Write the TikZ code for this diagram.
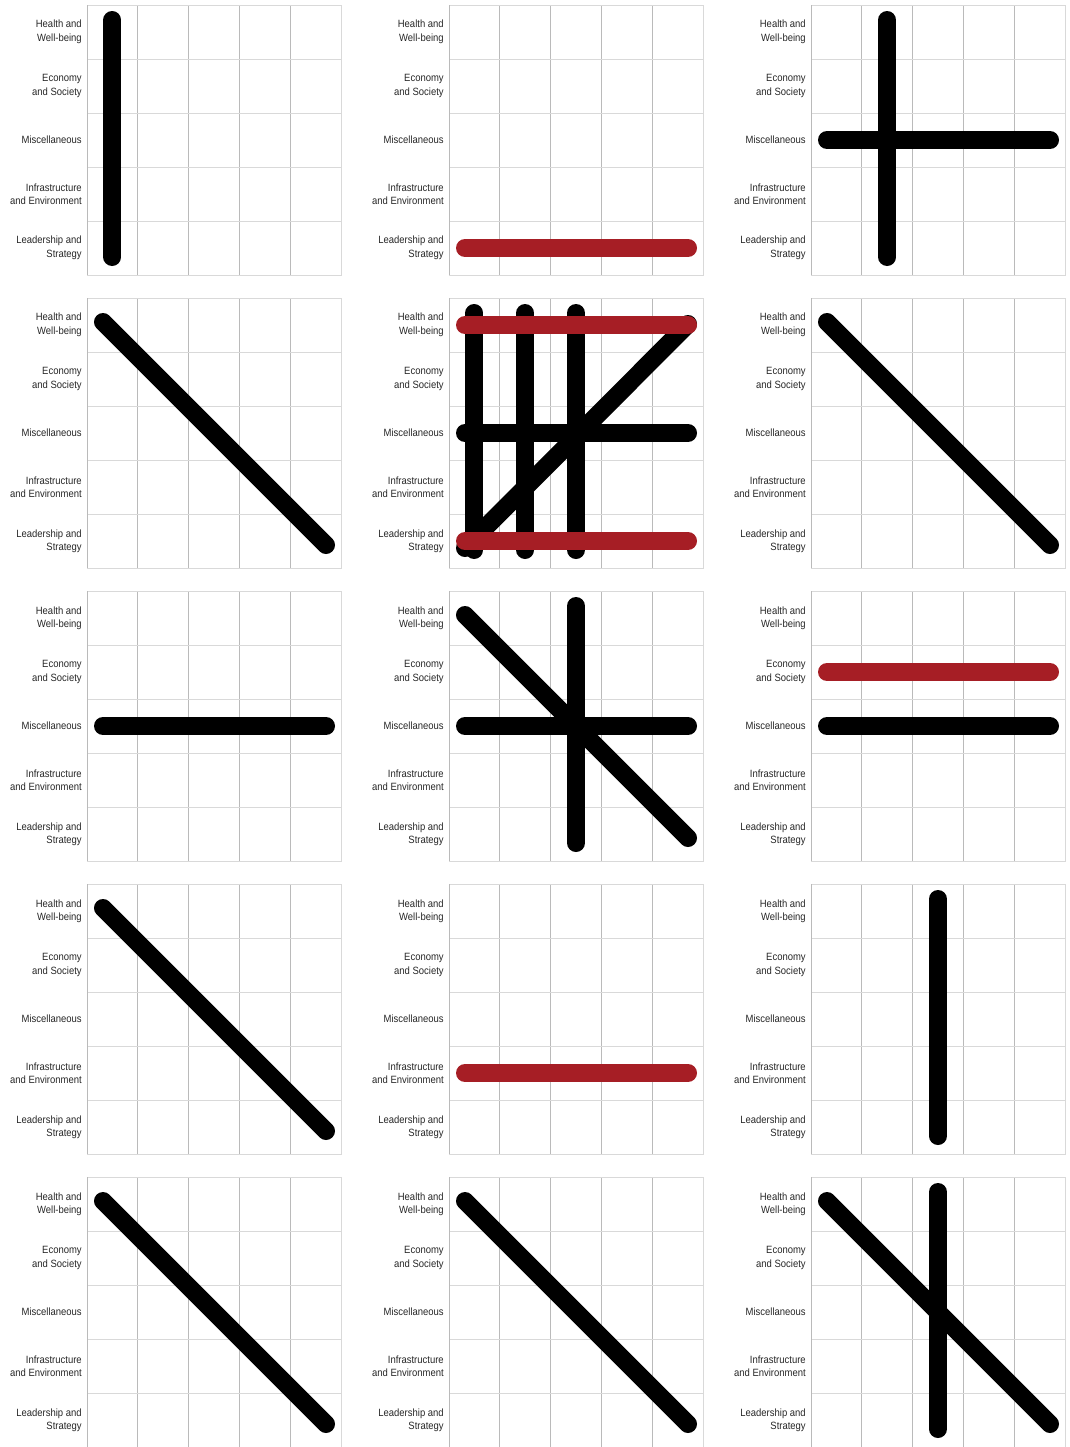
\documentclass[tikz,border=0pt]{standalone}
\usepackage{fontspec}
\setmainfont{Liberation Sans}[FakeStretch=0.9]
\definecolor{glyphred}{HTML}{A61E25}
\tikzset{
  rowlabel/.style={anchor=east,align=right,inner sep=0pt,text=black!85,
    font=\fontsize{7.9}{10.1}\selectfont},
  vgrid/.style={draw=black!27,line width=0.75pt},
  hgrid/.style={draw=black!15,line width=0.75pt},
  stroke/.style={line width=13.5pt,line cap=round},
}
\begin{document}
\begin{tikzpicture}[x=0.75pt,y=-0.75pt]
\useasboundingbox (0,0) rectangle (1070,1447);
\newcommand{\hstroke}[2]{\draw[stroke,#2] (16,{27+54*(#1-1)}) -- (239,{27+54*(#1-1)});}
\newcommand{\vstroke}[1]{\draw[stroke] ({25.4+50.8*(#1-1)},15) -- ({25.4+50.8*(#1-1)},252);}
\newcommand{\dstroke}{\draw[stroke] (16,24) -- (239,247);}
\newcommand{\ustroke}{\draw[stroke] (16,250) -- (239,26);}
\newcommand{\chartpanel}[4]{%
  \begin{scope}[shift={(#1,#2)},name prefix=#3-]
    \foreach \k in {1,...,4} \draw[vgrid] (\k*50.8,0) -- (\k*50.8,270);
    \foreach \j in {1,...,4} \draw[hgrid] (0,\j*54) -- (254,\j*54);
    \draw[hgrid] (0,0) -- (254,0) -- (254,270) -- (0,270);
    \draw[vgrid] (0,0) -- (0,270);
    \node[rowlabel] (hw) at (-5,27)  {Health and\\Well-being};
    \node[rowlabel] (es) at (-5,81)  {Economy\\and Society};
    \node[rowlabel] (mi) at (-5,135) {Miscellaneous};
    \node[rowlabel] (ie) at (-5,189) {Infrastructure\\and Environment};
    \node[rowlabel] (ls) at (-5,243) {Leadership and\\Strategy};
    #4
  \end{scope}}
%%%%%%%%%%%%%%%% row 1
\chartpanel{87}{5}{p11}{\vstroke{1}}
\chartpanel{449}{5}{p12}{\hstroke{5}{glyphred}}
\chartpanel{811}{5}{p13}{\vstroke{2}\hstroke{3}{black}}
%%%%%%%%%%%%%%%% row 2
\chartpanel{87}{298}{p21}{\dstroke}
\chartpanel{449}{298}{p22}{\vstroke{1}\vstroke{2}\vstroke{3}\ustroke
  \hstroke{3}{black}\hstroke{1}{glyphred}\hstroke{5}{glyphred}}
\chartpanel{811}{298}{p23}{\dstroke}
%%%%%%%%%%%%%%%% row 3
\chartpanel{87}{591}{p31}{\hstroke{3}{black}}
\chartpanel{449}{591}{p32}{\dstroke\vstroke{3}\hstroke{3}{black}}
\chartpanel{811}{591}{p33}{\hstroke{2}{glyphred}\hstroke{3}{black}}
%%%%%%%%%%%%%%%% row 4
\chartpanel{87}{884}{p41}{\dstroke}
\chartpanel{449}{884}{p42}{\hstroke{4}{glyphred}}
\chartpanel{811}{884}{p43}{\vstroke{3}}
%%%%%%%%%%%%%%%% row 5
\chartpanel{87}{1177}{p51}{\dstroke}
\chartpanel{449}{1177}{p52}{\dstroke}
\chartpanel{811}{1177}{p53}{\dstroke\vstroke{3}}
\end{tikzpicture}
\end{document}
